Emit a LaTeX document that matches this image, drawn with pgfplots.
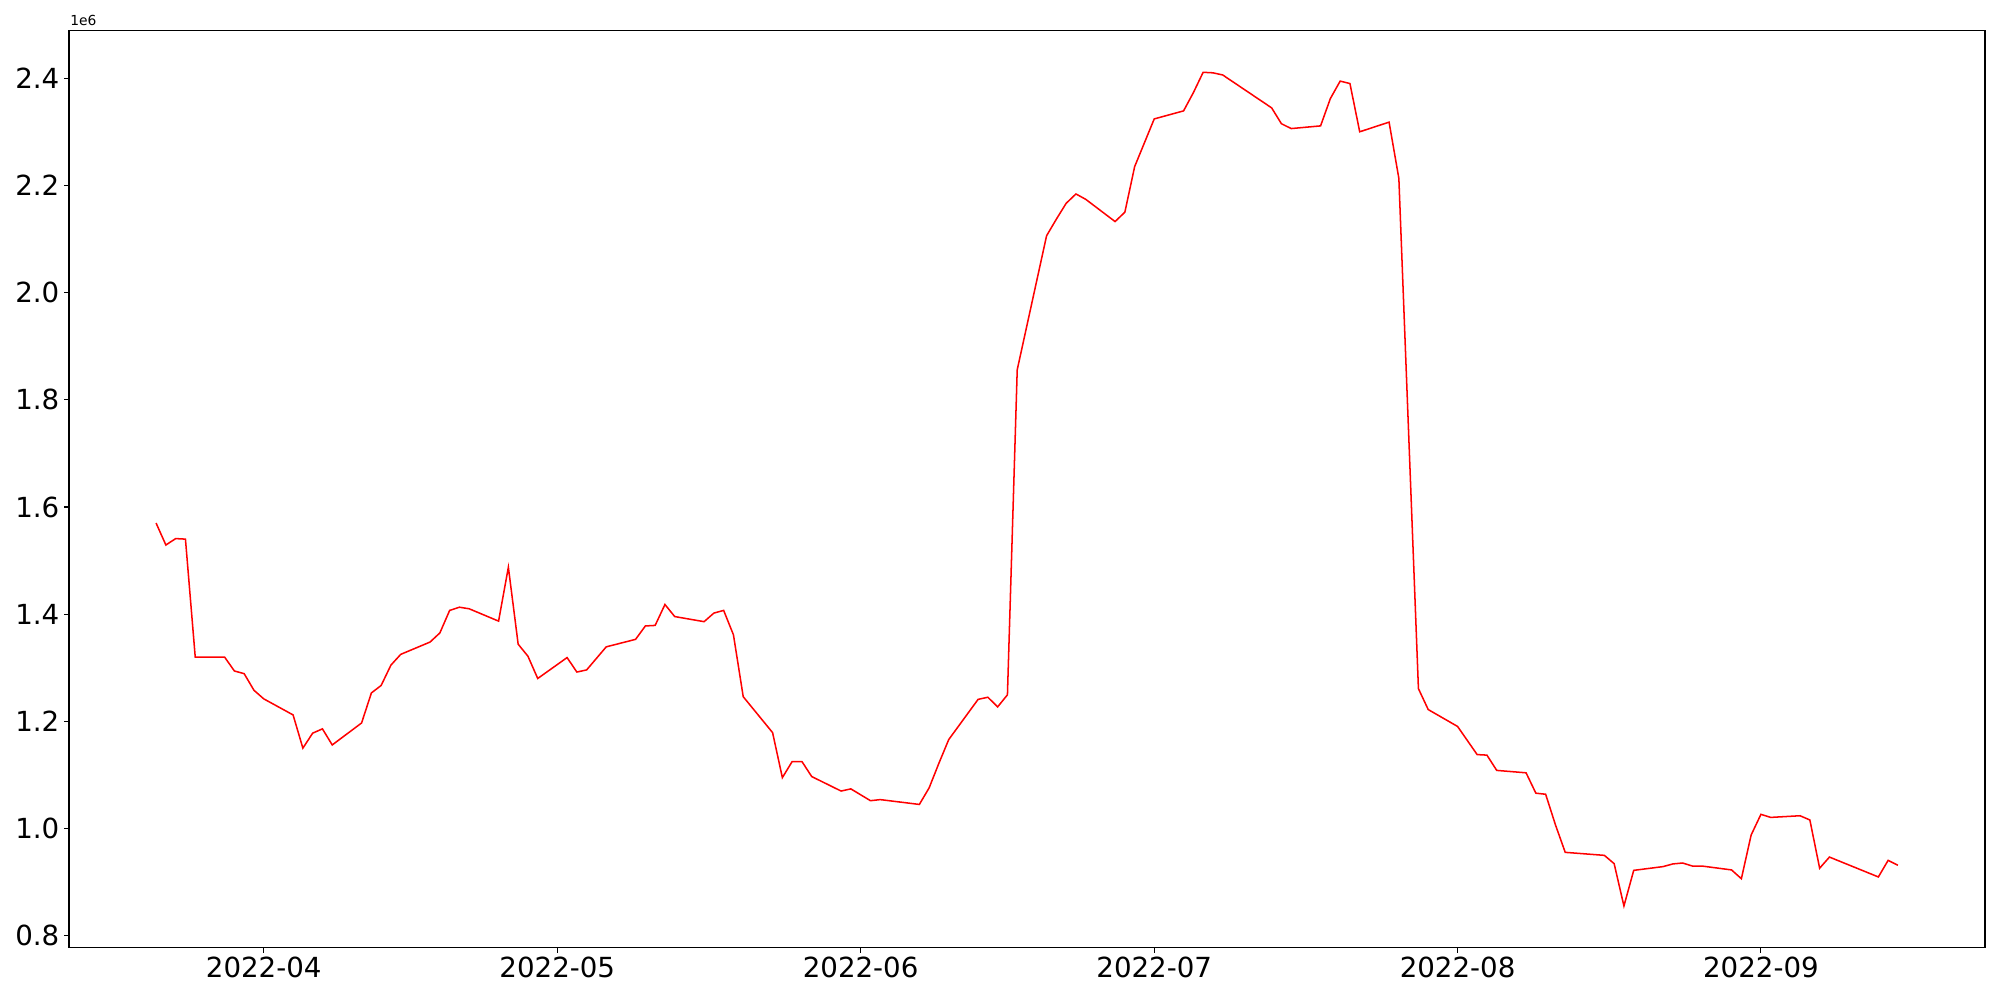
\documentclass[border=0pt]{standalone}
\usepackage{fontspec}
\setmainfont{DejaVu Sans}
\usepackage{pgfplots}
\pgfplotsset{compat=1.18}
\begin{document}
\begin{tikzpicture}
\begin{axis}[
  at={(0.69in,0.523in)}, anchor=south west,
  width=19.16in, height=9.171in, scale only axis,
  xmin=-19.9, xmax=175.9, ymin=0.7777, ymax=2.4888,
  xtick={0,30,61,91,122,153},
  xticklabels={2022-04,2022-05,2022-06,2022-07,2022-08,2022-09},
  ytick={0.8,1.0,1.2,1.4,1.6,1.8,2.0,2.2,2.4},
  yticklabel style={/pgf/number format/.cd, fixed, fixed zerofill, precision=1},
  /pgf/number format/assume math mode=true,
  xtick pos=bottom, ytick pos=left, tick align=outside,
  major tick length=3.5pt,
  every tick/.style={black, line width=0.8pt},
  axis line style={line width=0.8pt, black},
  tick label style={font=\fontsize{20}{24}\selectfont},
  scaled y ticks=false,
  clip=true,
]
\addplot[red, line width=1.1pt] table {
x y
-11 1.570
-10 1.529
-9 1.541
-8 1.540
-7 1.320
-4 1.320
-3 1.294
-2 1.289
-1 1.258
0 1.242
3 1.212
4 1.150
5 1.178
6 1.186
7 1.156
10 1.197
11 1.253
12 1.267
13 1.305
14 1.325
17 1.348
18 1.365
19 1.407
20 1.413
21 1.410
24 1.387
25 1.4875
26 1.344
27 1.3215
28 1.280
31 1.319
32 1.292
33 1.296
35 1.339
38 1.353
39 1.378
40 1.379
41 1.418
42 1.3955
45 1.386
46 1.402
47 1.407
48 1.3615
49 1.246
52 1.179
53 1.095
54 1.125
55 1.125
56 1.097
59 1.070
60 1.074
62 1.052
63 1.054
67 1.045
68 1.076
69 1.122
70 1.166
73 1.241
74 1.245
75 1.227
76 1.2495
77 1.856
80 2.106
81 2.137
82 2.1665
83 2.184
84 2.174
87 2.1325
88 2.150
89 2.235
91 2.324
94 2.339
95 2.373
96 2.411
97 2.410
98 2.406
103 2.3446
104 2.315
105 2.306
108 2.311
109 2.362
110 2.3945
111 2.390
112 2.300
115 2.318
116 2.213
118 1.261
119 1.222
122 1.1905
124 1.138
125 1.137
126 1.1085
129 1.104
130 1.066
131 1.064
132 1.007
133 0.9556
137 0.950
138 0.9345
139 0.8555
140 0.922
143 0.929
144 0.934
145 0.9357
146 0.930
147 0.930
150 0.9228
151 0.9064
152 0.988
153 1.0265
154 1.0208
157 1.0239
158 1.016
159 0.926
160 0.9468
165 0.9097
166 0.9407
167 0.9314
};
\end{axis}
\node[anchor=base west, inner sep=0pt, font=\fontsize{10}{12}\selectfont] at (0.70in,9.745in) {1e6};
\pgfresetboundingbox
\path[use as bounding box] (0,0) rectangle (20in,10in);
\end{tikzpicture}
\end{document}
